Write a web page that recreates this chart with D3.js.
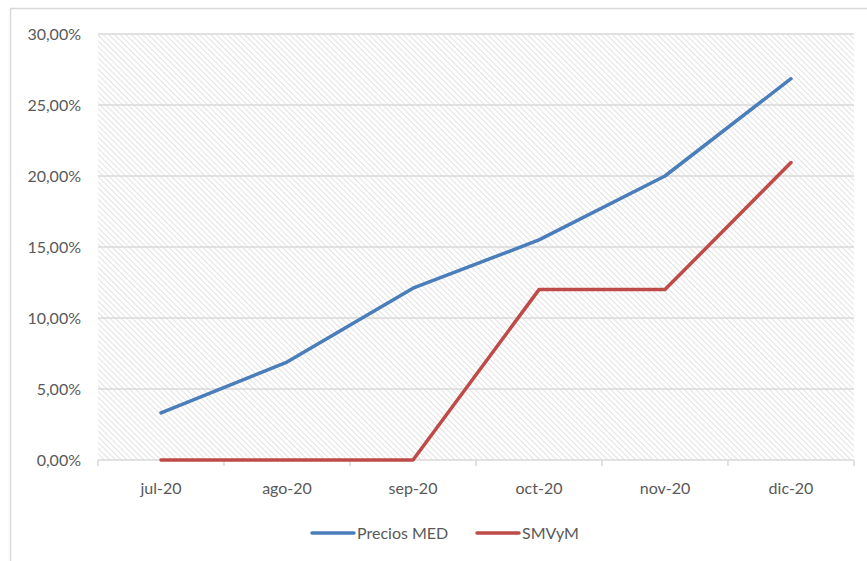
<!DOCTYPE html>
<html><head><meta charset="utf-8">
<script src="https://cdn.jsdelivr.net/npm/d3@7/dist/d3.min.js"></script>
<style>body{margin:0;background:#fff;}svg{display:block;}</style>
</head><body>
<script>
const categories = ["jul-20","ago-20","sep-20","oct-20","nov-20","dic-20"];
const preciosMED = [0.0332, 0.0690, 0.1210, 0.1550, 0.2000, 0.2685];
const smvym = [0.0, 0.0, 0.0, 0.1200, 0.1200, 0.2095];
const yTicks = [0, 0.05, 0.10, 0.15, 0.20, 0.25, 0.30];
const seriesNames = ["Precios MED", "SMVyM"];
const colors = ["#4A7EBB", "#BE4B48"];

(function () {
const W = 867, H = 561;
const svg = d3.select("body").append("svg").attr("width", W).attr("height", H);
const font = "Lato, 'Open Sans', sans-serif";

// outer chart border
svg.append("rect").attr("x", 10.5).attr("y", 8.5).attr("width", 900).attr("height", 600)
  .attr("fill", "#fff").attr("stroke", "#d9d9d9").attr("stroke-width", 1.5);

// title (mostly cut off at top, as in the reference)
svg.append("text").attr("x", 440).attr("y", -3).attr("text-anchor", "middle")
  .attr("font-family", font).attr("font-size", 18).attr("font-weight", "bold").attr("fill", "#000")
  .text("Precios MED y SMVyM");

const pL = 98, pR = 854, pT = 34, pB = 460;
const x = d3.scaleBand().domain(categories).range([pL, pR]);
const y = d3.scaleLinear().domain([0, 0.30]).range([pB, pT]);

const defs = svg.append("defs");
const pat = defs.append("pattern").attr("id", "hatch").attr("patternUnits", "userSpaceOnUse")
  .attr("width", 4).attr("height", 4).attr("patternTransform", "rotate(-45)");
pat.append("line").attr("x1", 0).attr("y1", 0).attr("x2", 0).attr("y2", 4)
  .attr("stroke", "#d6d6d6").attr("stroke-width", 1.4);

svg.append("rect").attr("x", pL).attr("y", pT).attr("width", pR - pL).attr("height", pB - pT)
  .attr("fill", "url(#hatch)");

// gridlines
svg.append("g").selectAll("line").data(yTicks.slice(1)).join("line")
  .attr("x1", pL).attr("x2", pR).attr("y1", d => y(d)).attr("y2", d => y(d))
  .attr("stroke", "#d9d9d9").attr("stroke-width", 1.5);

// y axis labels
const fmt = d => (d * 100).toFixed(2).replace(".", ",") + "%";
const yAxis = d3.axisLeft(y).tickValues(yTicks).tickFormat(fmt).tickSize(0).tickPadding(17);
const gy = svg.append("g").attr("transform", `translate(${pL},0)`).call(yAxis);
gy.select(".domain").remove();
gy.selectAll("text").attr("font-family", font).attr("font-size", 16).attr("fill", "#595959");

// x axis
const gx = svg.append("g").attr("transform", `translate(0,${pB})`);
gx.append("line").attr("x1", pL).attr("x2", pR).attr("stroke", "#d9d9d9").attr("stroke-width", 1.5);
const bounds = categories.map(c => x(c)).concat([x(categories[categories.length - 1]) + x.bandwidth()]);
gx.selectAll("line.tk").data(bounds).join("line").attr("class", "tk")
  .attr("x1", d => d).attr("x2", d => d).attr("y1", 0).attr("y2", 6)
  .attr("stroke", "#d9d9d9").attr("stroke-width", 1.5);
gx.selectAll("text").data(categories).join("text")
  .attr("x", d => x(d) + x.bandwidth() / 2).attr("y", 34).attr("text-anchor", "middle")
  .attr("font-family", font).attr("font-size", 16).attr("fill", "#595959").text(d => d);

// lines
const line = d3.line().x((d, i) => x(categories[i]) + x.bandwidth() / 2).y(d => y(d));
[preciosMED, smvym].forEach((s, i) => {
  svg.append("path").datum(s).attr("d", line).attr("fill", "none")
    .attr("stroke", colors[i]).attr("stroke-width", 3.5).attr("stroke-linejoin", "round").attr("stroke-linecap", "round");
});

// legend
const legX = [312, 477];
seriesNames.forEach((n, i) => {
  const g = svg.append("g").attr("transform", `translate(${legX[i]},533)`);
  g.append("line").attr("x1", 0).attr("x2", 42).attr("stroke", colors[i]).attr("stroke-width", 3.5).attr("stroke-linecap", "round");
  g.append("text").attr("x", 45).attr("y", 6).attr("font-family", font).attr("font-size", 16)
    .attr("fill", "#595959").text(n);
});
})();
</script>
</body></html>
